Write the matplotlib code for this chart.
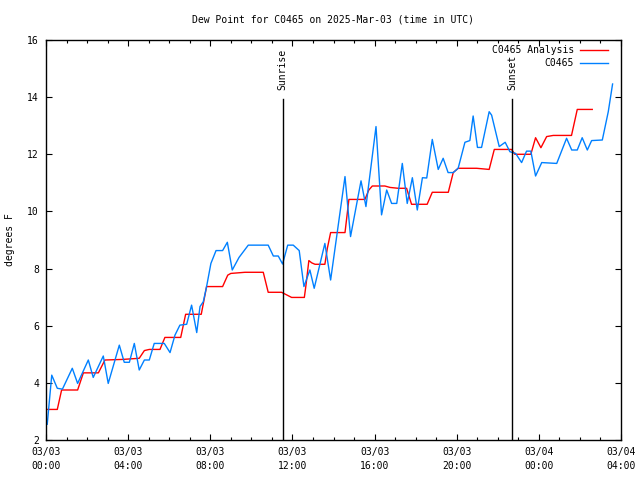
import datetime as dt
import matplotlib
matplotlib.use("Agg")
import matplotlib.pyplot as plt
import matplotlib.dates as mdates

# ---- data (hours after 2025-03-03 00:00 UTC, degrees F) ----
obs_hours = [0.06, 0.28, 0.55, 0.80, 1.28, 1.54, 2.06, 2.30, 2.79, 3.03, 3.57, 3.81, 4.06,
             4.30, 4.54, 4.79, 5.03, 5.27, 5.76, 6.04, 6.28, 6.52, 6.85, 7.09, 7.34, 7.50,
             7.66, 7.82, 8.03, 8.28, 8.60, 8.83, 9.07, 9.40, 9.85, 10.82, 11.07, 11.31,
             11.52, 11.77, 12.04, 12.33, 12.56, 12.85, 13.06, 13.58, 13.86, 14.56, 14.83,
             15.34, 15.58, 16.07, 16.34, 16.59, 16.83, 17.08, 17.35, 17.59, 17.84, 18.08,
             18.33, 18.54, 18.81, 19.10, 19.34, 19.58, 19.83, 20.07, 20.40, 20.64, 20.80,
             21.01, 21.21, 21.58, 21.70, 22.07, 22.36, 22.59, 22.87, 23.16, 23.40, 23.61,
             23.84, 24.14, 24.87, 25.35, 25.60, 25.87, 26.11, 26.36, 26.57, 27.09, 27.38,
             27.59]
obs_values = [2.55, 4.27, 3.81, 3.78, 4.51, 3.98, 4.80, 4.19, 4.94, 3.98, 5.32, 4.72, 4.72,
              5.38, 4.45, 4.80, 4.80, 5.38, 5.38, 5.06, 5.67, 6.02, 6.05, 6.72, 5.76, 6.67,
              6.84, 7.37, 8.18, 8.63, 8.63, 8.92, 7.95, 8.39, 8.82, 8.82, 8.44, 8.44,
              8.16, 8.82, 8.82, 8.63, 7.37, 7.95, 7.31, 8.88, 7.60, 11.22, 9.12,
              11.07, 10.17, 12.97, 9.88, 10.75, 10.28, 10.28, 11.68, 10.28, 11.18, 10.05,
              11.18, 11.17, 12.52, 11.47, 11.86, 11.36, 11.36, 11.51, 12.42, 12.48, 13.34,
              12.24, 12.24, 13.49, 13.37, 12.27, 12.42, 12.09, 12.03, 11.71, 12.11, 12.11,
              11.24, 11.71, 11.68, 12.56, 12.15, 12.15, 12.58, 12.15, 12.48, 12.50, 13.49,
              14.46]

ana_hours = [0.06, 0.55, 0.76, 1.54, 1.82, 2.55, 2.87, 3.73, 4.54, 4.79, 5.03, 5.55, 5.79,
             6.56, 6.80, 7.56, 7.82, 8.60, 8.85, 9.00, 9.69, 10.58, 10.82, 11.47, 11.96,
             12.58, 12.66, 12.80, 12.94, 13.10, 13.58, 13.70, 13.86, 14.56, 14.75, 15.53,
             15.72, 15.89, 16.50, 16.75, 17.15, 17.56, 17.80, 18.56, 18.81, 19.59, 19.83,
             20.07, 20.97, 21.58, 21.83, 22.67, 22.83, 23.61, 23.84, 24.10, 24.38, 24.70,
             25.59, 25.87, 26.60]
ana_values = [3.07, 3.07, 3.75, 3.75, 4.35, 4.35, 4.80, 4.82, 4.86, 5.13, 5.17, 5.17, 5.59,
              5.59, 6.40, 6.40, 7.37, 7.37, 7.77, 7.83, 7.87, 7.87, 7.17, 7.17, 6.99,
              6.99, 7.42, 8.28, 8.20, 8.15, 8.15, 8.71, 9.26, 9.26, 10.42, 10.42,
              10.75, 10.89, 10.89, 10.84, 10.81, 10.81, 10.25, 10.25, 10.67, 10.67, 11.36,
              11.51, 11.51, 11.47, 12.17, 12.17, 12.00, 12.00, 12.58, 12.23, 12.62, 12.66,
              12.66, 13.57, 13.57]

event_names = ["Sunrise", "Sunset"]
event_hours = [11.52, 22.70]
event_top = 13.92

series_labels = ["C0465 Analysis", "C0465"]
series_colors = ["#ff0000", "#0080ff"]
title = "Dew Point for C0465 on 2025-Mar-03 (time in UTC)"
ylabel = "degrees F"

# ---- plotting ----
base = dt.datetime(2025, 3, 3, 0, 0)
to_t = lambda hs: [base + dt.timedelta(hours=h) for h in hs]

FONT = "DejaVu Sans Mono"
FS = 7
plt.rcParams["font.family"] = FONT
plt.rcParams["font.size"] = FS

fig = plt.figure(figsize=(6.4, 4.8), dpi=100)
ax = fig.add_axes([46 / 640, 1 - 440 / 480, 575 / 640, 400 / 480])

ax.plot(to_t(ana_hours), ana_values, color=series_colors[0], lw=1.0, label=series_labels[0])
ax.plot(to_t(obs_hours), obs_values, color=series_colors[1], lw=1.0, label=series_labels[1])

for name, h in zip(event_names, event_hours):
    t = to_t([h])[0]
    ax.plot([t, t], [2, event_top], color="black", lw=1.0)
    ax.annotate(name, xy=(t, event_top), xytext=(0, 7), textcoords="offset points",
                rotation=90, ha="center", va="bottom", fontsize=FS)

ax.set_xlim(base, base + dt.timedelta(hours=28))
ax.set_ylim(2, 16)
ax.set_yticks(range(2, 17, 2))
ax.xaxis.set_major_locator(mdates.HourLocator(byhour=[0, 4, 8, 12, 16, 20]))
ax.xaxis.set_minor_locator(mdates.HourLocator())
ax.xaxis.set_major_formatter(mdates.DateFormatter("%m/%d\n%H:%M"))

ax.tick_params(which="both", direction="in", top=True, right=True, width=0.8, colors="black")
ax.tick_params(which="major", length=4.5)
ax.tick_params(which="minor", length=2.2)
ax.tick_params(axis="x", which="major", pad=5)
ax.tick_params(axis="y", which="major", pad=5)
for lbl in ax.get_xticklabels():
    lbl.set_linespacing(1.45)
for s in ax.spines.values():
    s.set_linewidth(1.0)

fig.text(10 / 640, 1 - 240 / 480, ylabel, rotation=90, ha="center", va="center", fontsize=FS)
fig.text(333 / 640, 1 - 19 / 480, title, ha="center", va="center", fontsize=FS)

leg = ax.legend(loc="upper right", bbox_to_anchor=(1 - 13 / 575, 1 - 5 / 400), frameon=False,
                markerfirst=False, handlelength=2.9, handletextpad=0.6, labelspacing=0.35,
                borderaxespad=0, borderpad=0, prop={"family": FONT, "size": FS})

fig.savefig("out.png", dpi=100)
